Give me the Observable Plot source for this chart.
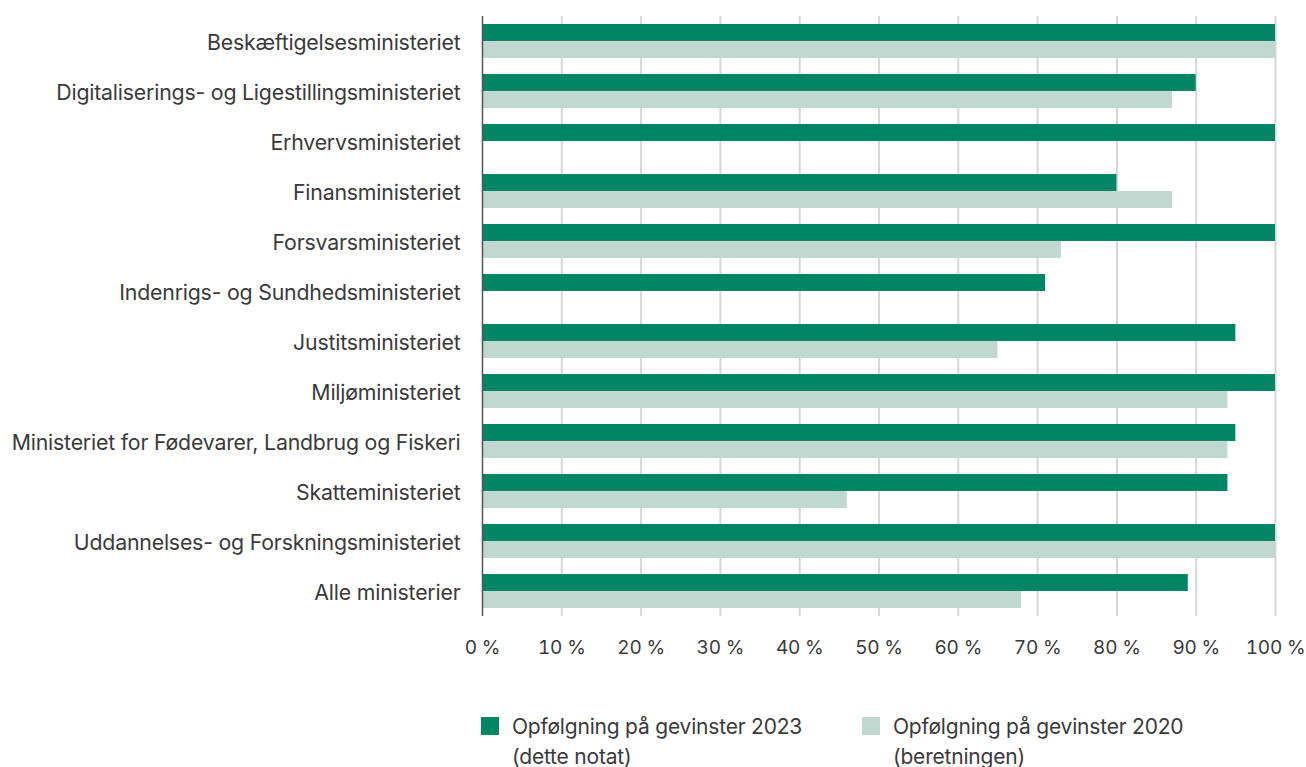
<!DOCTYPE html>
<html>
<head>
<meta charset="utf-8">
<script src="https://cdn.jsdelivr.net/npm/d3@7"></script>
<script src="https://cdn.jsdelivr.net/npm/@observablehq/plot@0.6"></script>
<style>
  body { margin: 0; background: #fff; font-family: "Inter", sans-serif; color: #3a3a3a; }
  #chart svg { display: block; }
  .legend { position: relative; height: 87px; font-size: 21px; line-height: 30px; letter-spacing: -0.2px; color: #3a3a3a; }
  .item { position: absolute; top: 36px; }
  .sw { position: absolute; left: 0; top: 1px; width: 18px; height: 18px; }
  .lt { position: absolute; left: 31px; top: -4px; white-space: nowrap; }
</style>
</head>
<body>
<div id="chart"></div>
<div class="legend">
  <div class="item" style="left:481px"><div class="sw" style="background:#008565"></div><div class="lt" id="l1"></div></div>
  <div class="item" style="left:862px"><div class="sw" style="background:#bfd9d0"></div><div class="lt" id="l2"></div></div>
</div>
<script>
const ministries = [
  "Beskæftigelsesministeriet",
  "Digitaliserings- og Ligestillingsministeriet",
  "Erhvervsministeriet",
  "Finansministeriet",
  "Forsvarsministeriet",
  "Indenrigs- og Sundhedsministeriet",
  "Justitsministeriet",
  "Miljøministeriet",
  "Ministeriet for Fødevarer, Landbrug og Fiskeri",
  "Skatteministeriet",
  "Uddannelses- og Forskningsministeriet",
  "Alle ministerier"
];
const values2023 = [100, 90, 100, 80, 100, 71, 95, 100, 95, 94, 100, 89];
const values2020 = [100, 87, null, 87, 73, null, 65, 94, 94, 46, 100, 68];
const seriesNames = ["Opfølgning på gevinster 2023", "Opfølgning på gevinster 2020"];
const seriesNotes = ["(dette notat)", "(beretningen)"];
const xTicks = [0, 10, 20, 30, 40, 50, 60, 70, 80, 90, 100];

document.getElementById("l1").innerHTML = seriesNames[0] + "<br>" + seriesNotes[0];
document.getElementById("l2").innerHTML = seriesNames[1] + "<br>" + seriesNotes[1];

const d23 = ministries.map((m, i) => ({m, v: values2023[i]})).filter(d => d.v != null);
const d20 = ministries.map((m, i) => ({m, v: values2020[i]})).filter(d => d.v != null);

const chart = Plot.plot({
  width: 1306,
  height: 680,
  marginLeft: 482,
  marginRight: 31,
  marginTop: 16,
  marginBottom: 64,
  style: {fontFamily: "Inter", fontSize: "21.3px", color: "#3a3a3a", letterSpacing: "-0.2px"},
  x: {domain: [0, 100], ticks: xTicks, label: null},
  y: {domain: ministries, paddingInner: 0.32, paddingOuter: 0.16, label: null},
  marks: [
    Plot.ruleX(xTicks.filter(t => t > 0), {stroke: "#d6d6d6", strokeWidth: 2}),
    Plot.barX(d23, {x: "v", y: "m", fill: "#008565", insetBottom: 17}),
    Plot.barX(d20, {x: "v", y: "m", fill: "#bfd9d0", insetTop: 17}),
    Plot.ruleX([0], {stroke: "#555", strokeWidth: 1.5}),
    Plot.axisX({ticks: xTicks, tickSize: 0, tickPadding: 24, fontSize: 19, tickFormat: d => d + " %", label: null, fill: "#3a3a3a"}),
    Plot.axisY({tickSize: 0, tickPadding: 22, dy: 2, label: null, fill: "#3a3a3a"})
  ]
});
document.getElementById("chart").appendChild(chart);
</script>
</body>
</html>
